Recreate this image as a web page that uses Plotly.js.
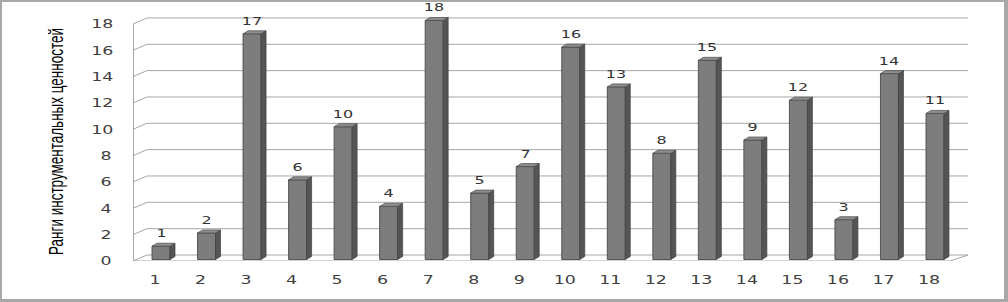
<!DOCTYPE html>
<html><head><meta charset="utf-8">
<script src="https://cdn.plot.ly/plotly-3.0.1.min.js"></script>
<style>
html,body{margin:0;padding:0;background:#fff;}
#wrap{position:relative;width:1008px;height:302px;}
#chart{width:1008px;height:302px;}
#frame{position:absolute;left:0;top:0;width:1008px;height:302px;box-sizing:border-box;border:2px solid #a8a8a8;border-right-width:4px;border-bottom-width:3px;pointer-events:none;}
/* the reference picture is horizontally stretched: widen the glyphs the same way */
#chart .xtick, #chart .ytick, #chart .annotation{transform-box:fill-box;transform-origin:center;transform:scaleX(1.45);}
#chart .g-ytitle{transform-box:fill-box;transform-origin:center;transform:translate(0px,6px) scaleX(1.5);}
</style>
</head><body>
<div id="wrap"><div id="chart"></div><div id="frame"></div></div>
<script>
// ---- data ----
const categories = [1,2,3,4,5,6,7,8,9,10,11,12,13,14,15,16,17,18];
const ranks = [1,2,17,6,10,4,18,5,7,16,13,8,15,9,12,3,14,11];
const yTicks = [0,2,4,6,8,10,12,14,16,18];
const yTitle = 'Ранги инструментальных ценностей';

// ---- geometry (display only) ----
const xRange = [0.385, 18.725];
const yRange = [0, 19.06];          // front axis
const y2Range = [-0.113, 18.79];    // bar depth plane
const barW = 0.395;                 // front face width (x units)
const dX = 0.11, dY = 0.226;        // bar depth offsets
const wallDX = 0.307, wallDY = 0.456; // back wall offsets (front axis units)

const sideX = [], sideY = [], topX = [], topY = [];
categories.forEach((c, i) => {
  const v = ranks[i];
  const r = c + barW/2, l = c - barW/2;
  sideX.push(r, r+dX, r+dX, r, r, null);
  sideY.push(0, dY, v+dY, v, 0, null);
  topX.push(l, r, r+dX, l+dX, l, null);
  topY.push(v, v, v+dY, v+dY, v, null);
});

const traces = [
  {type:'bar', x:categories, y:ranks, yaxis:'y2', width:barW,
   marker:{color:'#7d7d7d', line:{color:'#4a4a4a', width:0.9}}, hoverinfo:'x+y'},
  {type:'scatter', mode:'lines', x:sideX, y:sideY, yaxis:'y2', fill:'toself',
   fillcolor:'#555555', line:{color:'#404040', width:0.7}, hoverinfo:'skip', connectgaps:false},
  {type:'scatter', mode:'lines', x:topX, y:topY, yaxis:'y2', fill:'toself',
   fillcolor:'#8e8e8e', line:{color:'#4a4a4a', width:0.7}, hoverinfo:'skip', connectgaps:false}
];

const gridCol = '#a6a6a6';
const shapes = [];
const backLeft = xRange[0] + wallDX;
yTicks.forEach(t => {
  shapes.push({type:'line', layer:'below', xref:'x', yref:'y', x0:xRange[0], y0:t, x1:backLeft, y1:t+wallDY, line:{color:gridCol, width:1}});
  shapes.push({type:'line', layer:'below', xref:'x', yref:'y', x0:backLeft, y0:t+wallDY, x1:xRange[1], y1:t+wallDY, line:{color:gridCol, width:1}});
});
// left axis line
shapes.push({type:'line', layer:'below', xref:'x', yref:'y', x0:xRange[0], y0:0, x1:xRange[0], y1:yTicks[yTicks.length-1], line:{color:'#8c8c8c', width:1.5}});
// floor front edge and right edge
const floorRight = 18.33;
shapes.push({type:'line', layer:'below', xref:'x', yref:'y', x0:xRange[0], y0:0, x1:floorRight, y1:0, line:{color:gridCol, width:1}});
shapes.push({type:'line', layer:'below', xref:'x', yref:'y', x0:floorRight, y0:0, x1:xRange[1], y1:wallDY, line:{color:gridCol, width:1}});

const annotations = categories.map((c, i) => ({
  x:c, y:ranks[i], xref:'x', yref:'y2', text:String(ranks[i]), showarrow:false,
  yanchor:'bottom', yshift:4, font:{family:'DejaVu Sans, sans-serif', size:11, color:'#333333'}
}));

const layout = {
  width:1008, height:302,
  margin:{l:133, r:40, t:10, b:41, pad:0},
  paper_bgcolor:'#ffffff', plot_bgcolor:'rgba(0,0,0,0)',
  showlegend:false,
  xaxis:{range:xRange, tickvals:categories, ticktext:categories.map(String),
    showgrid:false, zeroline:false, showline:false, ticks:'',
    ticklabelshift:-6, ticklabelstandoff:10,
    tickfont:{family:'DejaVu Sans, sans-serif', size:12, color:'#404040'}},
  yaxis:{range:yRange, tickvals:yTicks, ticktext:yTicks.map(String),
    showgrid:false, zeroline:false, showline:false, ticks:'',
    ticklabelstandoff:22,
    tickfont:{family:'DejaVu Sans, sans-serif', size:12, color:'#404040'},
    title:{text:yTitle, standoff:30, font:{family:'Liberation Sans, Arial, sans-serif', size:13.5, color:'#000000'}}},
  yaxis2:{range:y2Range, overlaying:'y', visible:false},
  shapes:shapes,
  annotations:annotations
};

Plotly.newPlot('chart', traces, layout, {displayModeBar:false, staticPlot:true});
</script>
</body></html>
